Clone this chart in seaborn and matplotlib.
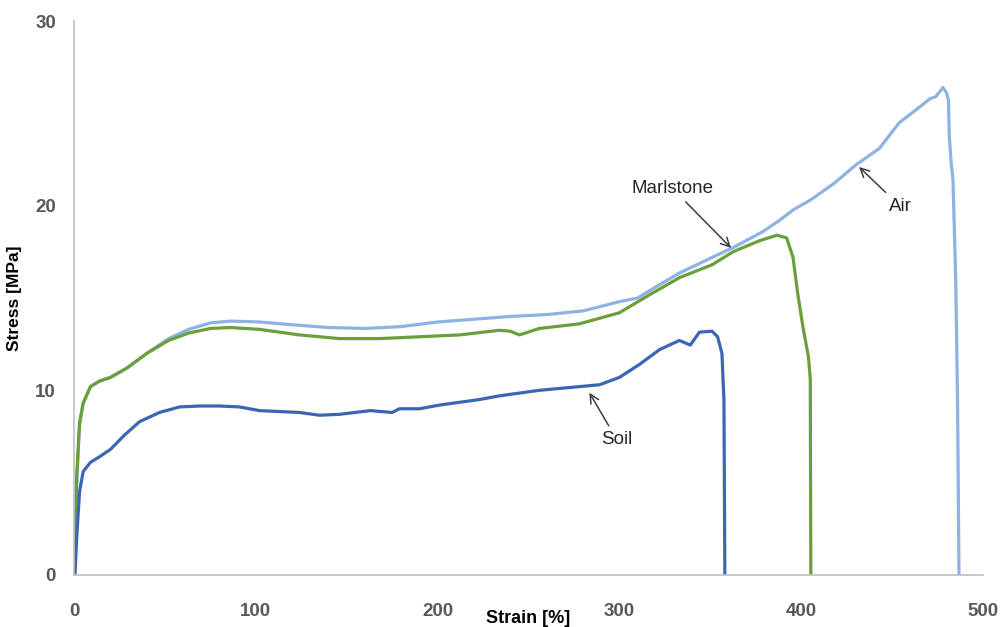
import numpy as np
import pandas as pd
import matplotlib
matplotlib.use("Agg")
import matplotlib.pyplot as plt
import seaborn as sns

# Data (strain %, stress MPa)
air_x = [0, 0.5, 1.5, 3, 5, 9, 14, 20, 29, 40, 52, 63, 75, 86, 102, 120, 140, 160, 180,
         200, 220, 240, 260, 280, 300, 310, 320, 333, 351, 363, 379, 388, 396, 405, 418,
         430, 443, 454, 462, 471, 474, 478, 480, 481, 481.5, 482.5, 483.5, 485, 486, 486.8]
air_y = [0, 2, 5, 8.2, 9.3, 10.2, 10.5, 10.7, 11.2, 12.0, 12.8, 13.3, 13.65, 13.75, 13.7,
         13.55, 13.4, 13.35, 13.45, 13.7, 13.85, 14.0, 14.1, 14.3, 14.8, 15.0, 15.6, 16.35,
         17.2, 17.75, 18.6, 19.2, 19.8, 20.3, 21.2, 22.2, 23.1, 24.5, 25.1, 25.8, 25.9, 26.4,
         26.1, 25.7, 23.7, 22.3, 21.4, 16, 9.5, 0]

marl_x = [0, 0.5, 1.5, 3, 5, 9, 14, 20, 29, 40, 52, 63, 75, 86, 102, 124, 146, 168, 190,
          212, 234, 240, 245, 256, 278, 300, 317, 333, 351, 362.5, 377, 386.7, 392, 395.5,
          398, 401, 404, 405, 405.3]
marl_y = [0, 2.5, 5.5, 8.2, 9.3, 10.2, 10.5, 10.7, 11.2, 12.0, 12.7, 13.1, 13.35, 13.4,
          13.3, 13.0, 12.8, 12.8, 12.9, 13.0, 13.25, 13.2, 13.0, 13.35, 13.6, 14.2, 15.2,
          16.1, 16.8, 17.5, 18.1, 18.4, 18.25, 17.2, 15.3, 13.4, 11.8, 10.6, 0]

soil_x = [0.5, 1.5, 3, 5, 9, 14, 20, 28, 36, 47, 58, 69, 80, 91, 102, 124, 135, 146, 163,
          175, 179, 190, 201, 212, 223, 234, 256, 278, 289, 300, 311, 322, 333, 339, 344,
          351, 354, 356.4, 357, 357.5, 358]
soil_y = [0, 2.1, 4.5, 5.6, 6.1, 6.4, 6.8, 7.6, 8.3, 8.8, 9.1, 9.15, 9.15, 9.1, 8.9, 8.8,
          8.65, 8.7, 8.9, 8.8, 9.0, 9.0, 9.2, 9.35, 9.5, 9.7, 10.0, 10.2, 10.3, 10.7, 11.4,
          12.2, 12.7, 12.45, 13.15, 13.2, 12.9, 12.0, 10.6, 9.5, 0]

x_ticks = [0, 100, 200, 300, 400, 500]
y_ticks = [0, 10, 20, 30]

sns.set_style("white")
plt.rcParams['font.family'] = ['Liberation Sans', 'DejaVu Sans']

fig = plt.figure(figsize=(10.01, 6.27), dpi=100)
ax = fig.add_axes([0.074, 0.083, 0.908, 0.8835])

grey = '#BFBFBF'
sns.lineplot(x=air_x, y=air_y, sort=False, estimator=None, color='#8DB3E2', lw=2.3, ax=ax)
sns.lineplot(x=marl_x, y=marl_y, sort=False, estimator=None, color='#6A9F3B', lw=2.3, ax=ax)
sns.lineplot(x=soil_x, y=soil_y, sort=False, estimator=None, color='#3B66B4', lw=2.3, ax=ax)

ax.set_xlim(0, 500)
ax.set_ylim(0, 30)
ax.set_xticks(x_ticks)
ax.set_yticks(y_ticks)
sns.despine(ax=ax)
for s in ['left', 'bottom']:
    ax.spines[s].set_color(grey)
    ax.spines[s].set_linewidth(1.2)

ax.tick_params(axis='x', length=5, width=1.2, color=grey, pad=15)
ax.tick_params(axis='y', length=5, width=1.2, color=grey, pad=8)
for lab in ax.get_xticklabels() + ax.get_yticklabels():
    lab.set_fontsize(13.5)
    lab.set_fontweight('bold')
    lab.set_color('#595959')

ax.set_xlabel('Strain [%]', fontsize=13, fontweight='bold', color='black', va='center')
ax.set_ylabel('Stress [MPa]', fontsize=12.5, fontweight='bold', color='black')
ax.xaxis.set_label_coords(0.50, -0.079)
ax.yaxis.set_label_coords(-0.057, 0.5)

arrow = dict(arrowstyle='->', color='#3F3F3F', lw=1.1, mutation_scale=16)
ax.annotate('Marlstone', xy=(362.5, 17.6), xytext=(329, 20.95), fontsize=13.5,
            ha='center', va='center', arrowprops=arrow)
ax.annotate('Air', xy=(430.7, 22.2), xytext=(454.3, 19.98), fontsize=13.5,
            ha='center', va='center', arrowprops=arrow)
ax.annotate('Soil', xy=(282.7, 10.0), xytext=(298.7, 7.31), fontsize=13.5,
            ha='center', va='center', arrowprops=arrow)

fig.savefig('out.png', dpi=100)
